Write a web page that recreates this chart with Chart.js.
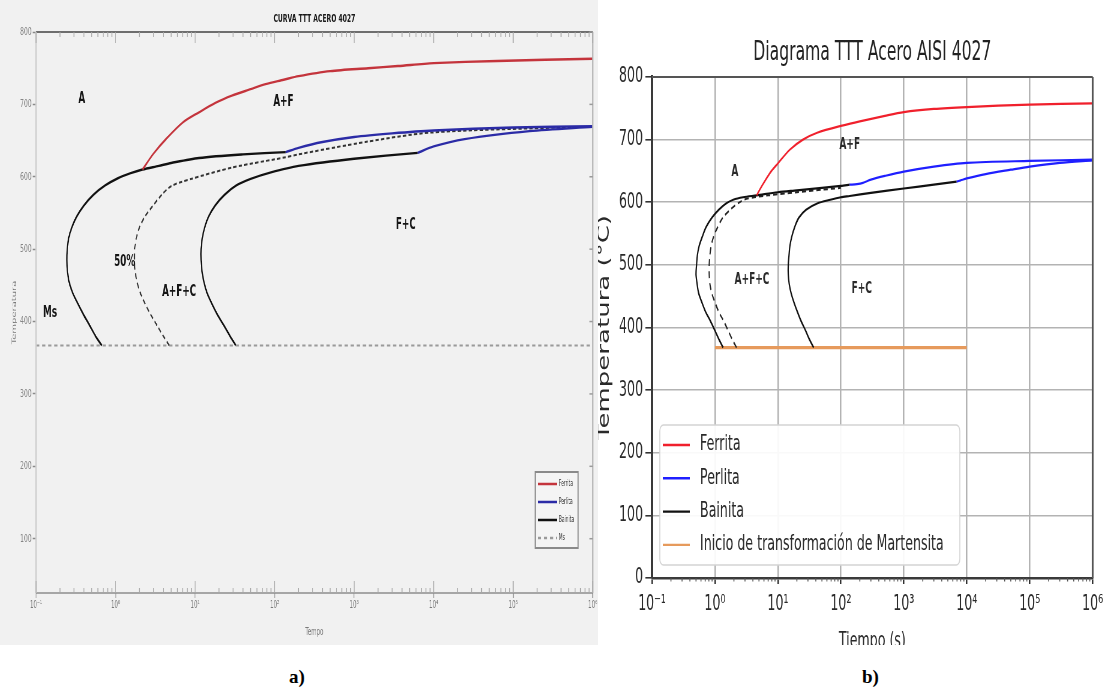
<!DOCTYPE html>
<html lang="es">
<head>
<meta charset="utf-8">
<title>Diagramas TTT Acero 4027</title>
<script src="https://cdn.jsdelivr.net/npm/chart.js@4.4.1/dist/chart.umd.min.js"></script>
<style>
  html, body { margin: 0; padding: 0; background: #fff; }
  body { width: 1108px; height: 696px; position: relative; overflow: hidden; }
  .panel { position: absolute; top: 0; overflow: hidden; }
  .panel canvas { position: absolute; left: 0; top: 0; transform-origin: 0 0; }
  #panelA { left: 0; width: 598px; height: 645px; background: #f1f1f1; }
  #panelB { left: 598px; width: 510px; height: 645px; background: #fff; }
  #chartA { transform: scaleX(0.55); }
  #chartB { transform: scaleX(0.6); }
  .cap { position: absolute; top: 666px; font: bold 19px 'Liberation Serif', serif; color: #000; }
</style>
</head>
<body>
<div id="panelA" class="panel"><canvas id="chartA" width="1087" height="645"></canvas></div>
<div id="panelB" class="panel"><canvas id="chartB" width="850" height="700"></canvas></div>
<div class="cap" style="left:289px">a)</div>
<div class="cap" style="left:862px">b)</div>
<script>
// ---------- Escalas comunes ----------
const decadas = [0.1, 1, 10, 100, 1000, 10000, 100000, 1000000];
const etiquetasDecadas = ['10⁻¹', '10⁰', '10¹', '10²', '10³', '10⁴', '10⁵', '10⁶'];
const temperaturasEje = [0, 100, 200, 300, 400, 500, 600, 700, 800];

// ---------- a) Curva TTT acero 4027 ----------
const aFerritaTiempo = [2.18, 3, 4.3, 7, 11.2, 18, 29, 50, 77, 130, 200, 500, 1500, 3550, 10000, 63000, 1000000];
const aFerritaTemp   = [610, 632, 652, 675, 689, 702, 712, 721, 728, 734, 739, 746, 750, 753, 757, 760, 763];

const aPerlitaTiempo = [138, 200, 400, 1000, 3000, 10000, 100000, 1000000];
const aPerlitaTemp   = [634, 640, 648, 655, 660, 664, 668, 670];
const aPerlita2Tiempo = [6300, 10000, 24500, 160000, 1000000];
const aPerlita2Temp   = [633, 642, 652, 663, 669];

const aBainitaTiempo = [0.67, 0.56, 0.47, 0.394, 0.335, 0.288, 0.26, 0.248, 0.244, 0.247, 0.257, 0.282,
                        0.324, 0.398, 0.525, 0.74, 1.07, 1.55, 2.18, 3.5, 5, 11.2, 40, 138];
const aBainitaTemp   = [367, 380, 395, 410, 425, 440, 455, 470, 485, 500, 515, 530,
                        545, 560, 575, 588, 598, 605, 610, 615, 619, 626, 631, 634];

const aBainita2Tiempo = [32.4, 27.5, 22.9, 19, 16.2, 14.1, 12.9, 12.2, 11.9, 11.9, 12.3, 13.2,
                         14.8, 17.8, 23.4, 33, 50, 90, 200, 1000, 6300];
const aBainita2Temp   = [367, 380, 395, 410, 425, 440, 455, 470, 485, 500, 515, 530,
                         545, 560, 575, 588, 597, 606, 615, 625, 633];

const aMitadTiempo = [4.73, 3.98, 3.31, 2.75, 2.34, 2.04, 1.86, 1.76, 1.73, 1.74, 1.82, 2.0,
                      2.34, 2.95, 3.8, 5.0, 8.3, 30, 138, 200, 1380, 9100, 350000, 1000000];
const aMitadTemp   = [367, 380, 395, 410, 425, 440, 455, 470, 485, 500, 515, 530,
                      545, 560, 575, 587, 596, 613, 627, 631, 648, 661, 668, 669];

const aMsTiempo = [0.1, 1000000];
const aMsTemp   = [367, 367];

const aRegionesTexto  = ['A', 'A+F', 'F+C', 'A+F+C', '50%', 'Ms'];
const aRegionesTiempo = [0.376, 129, 4470, 6.3, 1.3, 0.15];
const aRegionesTemp   = [707, 703, 534, 441, 483, 412];

// ---------- b) Diagrama TTT acero AISI 4027 ----------
const bFerritaTiempo = [4.6, 5.5, 7.5, 10, 15.5, 25, 42, 100, 200, 500, 1000, 3000, 10000, 100000, 1000000];
const bFerritaTemp   = [611, 625, 647, 662, 684, 700, 711, 722, 729, 738, 744, 749, 752, 756, 758];

const bPerlitaTiempo = [138, 180, 224, 300, 500, 1000, 3000, 10000, 100000, 1000000];
const bPerlitaTemp   = [628, 629, 631, 636, 642, 649, 657, 663, 666, 668];
const bPerlita2Tiempo = [6900, 8000, 10000, 20000, 50000, 100000, 300000, 1000000];
const bPerlita2Temp   = [633, 635, 638, 645, 652, 657, 663, 667];

const bBainitaTiempo = [1.35, 1.17, 1.0, 0.85, 0.71, 0.62, 0.55, 0.52, 0.50, 0.51, 0.525, 0.56,
                        0.63, 0.72, 0.89, 1.15, 1.5, 1.95, 2.8, 4.6, 10, 20, 50, 100, 138];
const bBainitaTemp   = [368, 380, 395, 410, 425, 440, 455, 470, 485, 500, 515, 530,
                        545, 560, 575, 588, 598, 604, 608, 611, 616, 619, 623, 626, 628];

const bBainita2Tiempo = [37, 32, 27.5, 23.4, 20.4, 18, 16.2, 15.1, 14.6, 14.6, 15, 15.5,
                         16.6, 18.4, 21.4, 28, 42, 68, 100, 138, 300, 1000, 3000, 6900];
const bBainita2Temp   = [368, 380, 395, 410, 425, 440, 455, 470, 485, 500, 515, 530,
                         545, 560, 575, 588, 598, 604, 608, 610, 615, 622, 628, 633];

const bMitadTiempo = [2.2, 1.9, 1.62, 1.38, 1.15, 1.0, 0.89, 0.83, 0.81, 0.81, 0.83, 0.87,
                      0.95, 1.1, 1.32, 1.74, 2.3, 2.9, 4.2, 7, 20, 50, 100];
const bMitadTemp   = [368, 380, 395, 410, 425, 440, 455, 470, 485, 500, 515, 530,
                      545, 560, 575, 588, 598, 604, 608, 611, 616, 620, 623];

const bMartensitaTiempo = [1, 10000];
const bMartensitaTemp   = [368, 368];

const bRegionesTexto  = ['A', 'A+F', 'A+F+C', 'F+C'];
const bRegionesTiempo = [2.07, 138, 3.87, 215];
const bRegionesTemp   = [648, 692, 476, 462];

// ---------- utilidades ----------
const FUENTE = "'DejaVu Sans', sans-serif";
const serie = (ts, temps) => ts.map((t, i) => ({ x: t, y: temps[i] }));

function curva(label, ts, temps, color, extra) {
  return Object.assign({
    label, data: serie(ts, temps), borderColor: color, backgroundColor: color,
    showLine: true, pointRadius: 0, borderWidth: 2.4, tension: 0.3, fill: false
  }, extra || {});
}

// rótulos de zonas (A, A+F, ...) en coordenadas de datos
function rotulosPlugin(id, textos, tiempos, temps, fuente, color) {
  return {
    id,
    afterDatasetsDraw(chart) {
      const { ctx, scales: { x, y } } = chart;
      ctx.save();
      ctx.font = fuente;
      ctx.fillStyle = color;
      ctx.textAlign = 'center';
      ctx.textBaseline = 'middle';
      textos.forEach((t, i) => ctx.fillText(t, x.getPixelForValue(tiempos[i]), y.getPixelForValue(temps[i])));
      ctx.restore();
    }
  };
}

// leyenda propia dentro del área de trazado
function leyendaPlugin(id, cfg) {
  return {
    id,
    afterDraw(chart) {
      const ctx = chart.ctx;
      const items = chart.data.datasets.filter(d => d.enLeyenda);
      ctx.save();
      ctx.fillStyle = cfg.fondo;
      ctx.strokeStyle = cfg.borde;
      ctx.lineWidth = cfg.bordeAncho;
      ctx.beginPath();
      if (ctx.roundRect) ctx.roundRect(cfg.x, cfg.y, cfg.w, cfg.h, cfg.radio);
      else ctx.rect(cfg.x, cfg.y, cfg.w, cfg.h);
      ctx.fill();
      ctx.stroke();
      ctx.font = cfg.fuente;
      ctx.textBaseline = 'middle';
      items.forEach((d, i) => {
        const yy = cfg.primeraY + i * cfg.paso;
        ctx.strokeStyle = d.borderColor;
        ctx.lineWidth = cfg.lineaAncho;
        ctx.setLineDash(d.borderDash || []);
        ctx.beginPath();
        ctx.moveTo(cfg.lineaX0, yy);
        ctx.lineTo(cfg.lineaX1, yy);
        ctx.stroke();
        ctx.setLineDash([]);
        ctx.fillStyle = cfg.colorTexto;
        ctx.fillText(d.label, cfg.textoX, yy);
      });
      ctx.restore();
    }
  };
}

// marcos y marcas menores del eje logarítmico
function marcoPlugin(id, cfg) {
  return {
    id,
    afterDatasetsDraw(chart) {
      const { ctx, chartArea: a, scales: { x, y } } = chart;
      ctx.save();
      cfg.lados.forEach(l => {
        ctx.strokeStyle = l.color;
        ctx.lineWidth = l.ancho;
        ctx.beginPath();
        if (l.lado === 'top') { ctx.moveTo(a.left, a.top); ctx.lineTo(a.right, a.top); }
        if (l.lado === 'bottom') { ctx.moveTo(a.left, a.bottom); ctx.lineTo(a.right, a.bottom); }
        if (l.lado === 'left') { ctx.moveTo(a.left, a.top); ctx.lineTo(a.left, a.bottom); }
        if (l.lado === 'right') { ctx.moveTo(a.right, a.top); ctx.lineTo(a.right, a.bottom); }
        ctx.stroke();
      });
      ctx.strokeStyle = cfg.menorColor;
      ctx.lineWidth = cfg.menorAncho;
      for (let e = -1; e < 6; e++) {
        for (let k = 2; k <= 9; k++) {
          const px = x.getPixelForValue(k * Math.pow(10, e));
          cfg.menores.forEach(m => {
            ctx.beginPath();
            const y0 = m.lado === 'top' ? a.top : a.bottom;
            ctx.moveTo(px, y0);
            ctx.lineTo(px, y0 + m.largo);
            ctx.stroke();
          });
        }
      }
      (cfg.mayores || []).forEach(m => {
        decadas.forEach(v => {
          const px = x.getPixelForValue(v);
          const y0 = m.lado === 'top' ? a.top : a.bottom;
          ctx.beginPath();
          ctx.moveTo(px, y0);
          ctx.lineTo(px, y0 + m.largo);
          ctx.stroke();
        });
      });
      if (cfg.marcasDerecha) {
        ctx.strokeStyle = cfg.marcasDerecha.color;
        ctx.lineWidth = 1.5;
        temperaturasEje.forEach(t => {
          if (t < y.min || t > y.max) return;
          const py = y.getPixelForValue(t);
          ctx.beginPath();
          ctx.moveTo(a.right, py);
          ctx.lineTo(a.right - cfg.marcasDerecha.largo, py);
          ctx.stroke();
        });
      }
      ctx.restore();
    }
  };
}

function fondoPlugin(id, color) {
  return {
    id,
    beforeDraw(chart) {
      const ctx = chart.ctx;
      ctx.save();
      ctx.fillStyle = color;
      ctx.fillRect(0, 0, chart.width, chart.height);
      ctx.restore();
    }
  };
}

const ejeXDecadas = s => { s.ticks = decadas.map(v => ({ value: v })); };
const ejeYTemp = s => { s.ticks = temperaturasEje.filter(t => t >= s.min).map(v => ({ value: v })); };

// ---------- a) ----------
new Chart(document.getElementById('chartA'), {
  type: 'scatter',
  data: {
    datasets: [
      curva('Ferrita', aFerritaTiempo, aFerritaTemp, '#c4343c', { enLeyenda: true }),
      curva('Perlita', aPerlitaTiempo, aPerlitaTemp, '#2b2ba6', { enLeyenda: true }),
      curva('Perlita (fin)', aPerlita2Tiempo, aPerlita2Temp, '#2b2ba6'),
      curva('Bainita', aBainitaTiempo, aBainitaTemp, '#111111', { enLeyenda: true }),
      curva('Bainita (fin)', aBainita2Tiempo, aBainita2Temp, '#111111'),
      curva('50%', aMitadTiempo, aMitadTemp, '#333333', { borderDash: [6, 4], borderWidth: 2 }),
      curva('Ms', aMsTiempo, aMsTemp, '#9a9a9a', { borderDash: [6, 5], borderWidth: 2, tension: 0, enLeyenda: true })
    ]
  },
  options: {
    responsive: false, animation: false, devicePixelRatio: 1, events: [],
    layout: { padding: { left: 0, right: 1.5, top: 0, bottom: 0 } },
    plugins: {
      legend: { display: false },
      tooltip: { enabled: false },
      title: {
        display: true, text: 'CURVA TTT ACERO 4027', fullSize: false, color: '#1a1a1a',
        font: { family: FUENTE, size: 11, weight: 'bold' }, padding: { top: 13, bottom: 5.8 }
      }
    },
    scales: {
      x: {
        type: 'logarithmic', min: 0.1, max: 1000000,
        afterBuildTicks: ejeXDecadas,
        afterFit: s => { s.height = 52; },
        ticks: { callback: (v, i) => etiquetasDecadas[i], autoSkip: false, maxRotation: 0,
                 font: { family: FUENTE, size: 10 }, color: '#7a7a7a', padding: 1 },
        grid: { drawOnChartArea: false, tickLength: 5, tickColor: '#9a9a9a', tickWidth: 1.5 },
        border: { display: false },
        title: { display: true, text: 'Tempo', color: '#7a7a7a', font: { family: FUENTE, size: 10 }, padding: { top: 0, bottom: 7 } }
      },
      y: {
        min: 25, max: 800,
        afterBuildTicks: ejeYTemp,
        afterFit: s => { s.width = 65.5; },
        ticks: { font: { family: FUENTE, size: 11 }, color: '#858585', padding: 2 },
        grid: { drawOnChartArea: false, tickLength: 6, tickColor: '#8a8a8a', tickWidth: 1.5 },
        border: { display: false },
        title: { display: true, text: 'Temperatura', color: '#7a7a7a', font: { family: FUENTE, size: 10 }, padding: { top: 20, bottom: 0 } }
      }
    }
  },
  plugins: [
    fondoPlugin('fondoA', '#f1f1f1'),
    marcoPlugin('marcoA', {
      lados: [
        { lado: 'top', color: '#6e6e6e', ancho: 2 },
        { lado: 'bottom', color: '#8c8c8c', ancho: 1.6 },
        { lado: 'left', color: '#cfcfcf', ancho: 2.5 },
        { lado: 'right', color: '#b5b5b5', ancho: 2.5 }
      ],
      menorColor: '#a8a8a8', menorAncho: 1.6,
      menores: [{ lado: 'top', largo: 5 }, { lado: 'bottom', largo: -5 }],
      mayores: [{ lado: 'top', largo: 11 }, { lado: 'bottom', largo: -12 }],
      marcasDerecha: { color: '#9a9a9a', largo: 6 }
    }),
    rotulosPlugin('zonasA', aRegionesTexto, aRegionesTiempo, aRegionesTemp, `bold 16px ${FUENTE}`, '#151515'),
    leyendaPlugin('leyendaA', {
      x: 973, y: 472, w: 78, h: 76, radio: 0,
      fondo: '#f4f4f4', borde: '#8a8a8a', bordeAncho: 2,
      primeraY: 484, paso: 18, lineaX0: 978, lineaX1: 1013, lineaAncho: 2.6,
      textoX: 1016, fuente: `8px ${FUENTE}`, colorTexto: '#333'
    })
  ]
});

// ---------- b) ----------
new Chart(document.getElementById('chartB'), {
  type: 'scatter',
  data: {
    datasets: [
      curva('Ferrita', bFerritaTiempo, bFerritaTemp, '#f0202c', { enLeyenda: true, borderWidth: 2.2 }),
      curva('Perlita', bPerlitaTiempo, bPerlitaTemp, '#1f1fff', { enLeyenda: true, borderWidth: 2.2 }),
      curva('Perlita (fin)', bPerlita2Tiempo, bPerlita2Temp, '#1f1fff', { borderWidth: 2.2 }),
      curva('Bainita', bBainitaTiempo, bBainitaTemp, '#111111', { enLeyenda: true, borderWidth: 2.2 }),
      curva('Bainita (fin)', bBainita2Tiempo, bBainita2Temp, '#111111', { borderWidth: 2.2 }),
      curva('Bainita 50%', bMitadTiempo, bMitadTemp, '#222222', { borderDash: [7, 5], borderWidth: 2 }),
      curva('Inicio de transformación de Martensita', bMartensitaTiempo, bMartensitaTemp, '#e69a5c',
            { enLeyenda: true, borderWidth: 3.2, tension: 0 })
    ]
  },
  options: {
    responsive: false, animation: false, devicePixelRatio: 1, events: [],
    layout: { padding: { left: 0, right: 25, top: 0, bottom: 0 } },
    plugins: {
      legend: { display: false },
      tooltip: { enabled: false },
      title: {
        display: true, text: 'Diagrama TTT Acero AISI 4027', fullSize: false, color: '#222',
        font: { family: FUENTE, size: 26, weight: 'normal' }, padding: { top: 38, bottom: 7.8 }
      }
    },
    scales: {
      x: {
        type: 'logarithmic', min: 0.1, max: 1000000,
        afterBuildTicks: ejeXDecadas,
        afterFit: s => { s.height = 122; },
        ticks: { callback: (v, i) => etiquetasDecadas[i], autoSkip: false, maxRotation: 0,
                 font: { family: FUENTE, size: 21 }, color: '#2a2a2a', padding: 8 },
        grid: { color: '#b3b3b3', lineWidth: 2.6, tickLength: 6, tickColor: '#333', tickWidth: 2.6 },
        border: { display: true, color: '#3a3a3a', width: 2.6 },
        title: { display: true, text: 'Tiempo (s)', color: '#2a2a2a', font: { family: FUENTE, size: 21 }, padding: { top: 0, bottom: 46 } }
      },
      y: {
        min: 0, max: 800,
        afterBuildTicks: ejeYTemp,
        afterFit: s => { s.width = 90; },
        ticks: { font: { family: FUENTE, size: 21 }, color: '#2a2a2a', padding: 4 },
        grid: { color: '#b3b3b3', lineWidth: 1.6, tickLength: 11, tickColor: '#333', tickWidth: 1.6 },
        border: { display: true, color: '#3a3a3a', width: 4 },
        title: { display: true, text: 'Temperatura (°C)', color: '#2a2a2a',
                 font: { family: FUENTE, size: 26, lineHeight: 0.9 }, padding: 0 }
      }
    }
  },
  plugins: [
    fondoPlugin('fondoB', '#ffffff'),
    marcoPlugin('marcoB', {
      lados: [
        { lado: 'top', color: '#555', ancho: 1.8 },
        { lado: 'right', color: '#555', ancho: 3 }
      ],
      menorColor: '#555', menorAncho: 1.6,
      menores: [{ lado: 'bottom', largo: 3.5 }]
    }),
    rotulosPlugin('zonasB', bRegionesTexto, bRegionesTiempo, bRegionesTemp, `bold 15px ${FUENTE}`, '#2a2a2a'),
    leyendaPlugin('leyendaB', {
      x: 103, y: 425, w: 500, h: 140, radio: 6,
      fondo: 'rgba(255,255,255,0.92)', borde: '#d4d4d4', bordeAncho: 1.6,
      primeraY: 445, paso: 33.3, lineaX0: 108, lineaX1: 153, lineaAncho: 2.4,
      textoX: 170, fuente: `21px ${FUENTE}`, colorTexto: '#2a2a2a'
    })
  ]
});
</script>
</body>
</html>
